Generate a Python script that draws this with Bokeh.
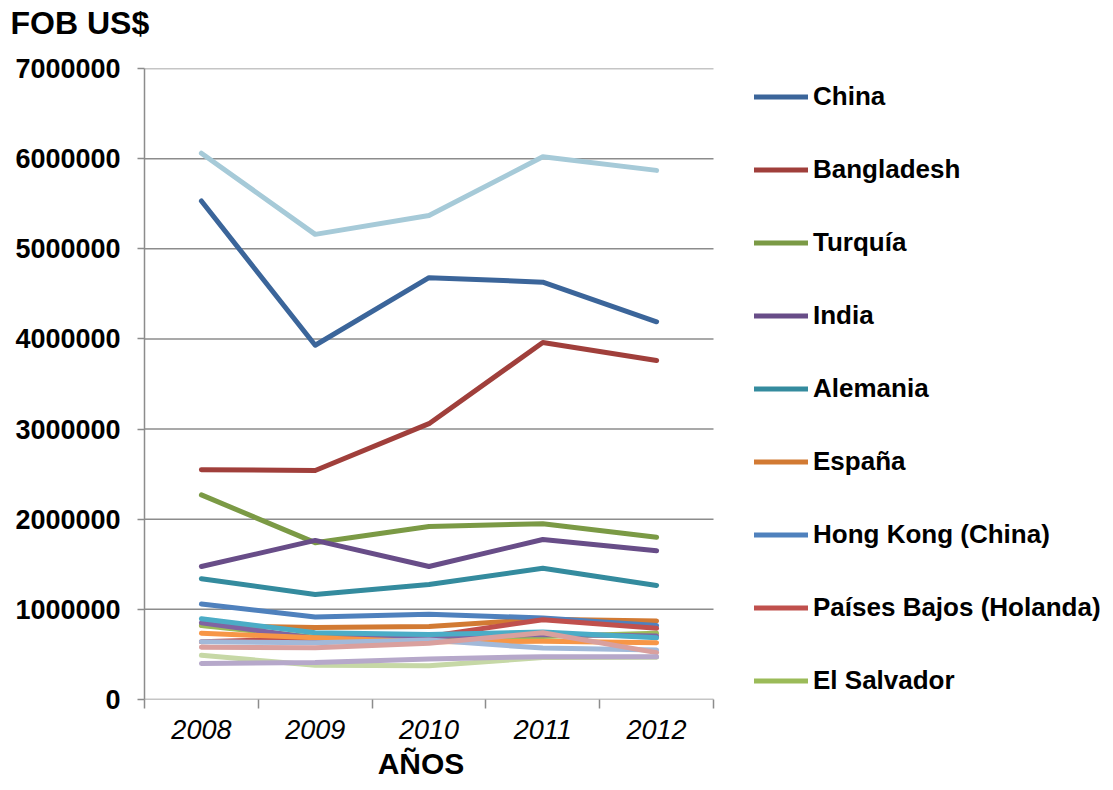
from bokeh.plotting import figure
from bokeh.models import (FixedTicker, Legend, LegendItem, Range1d, NumeralTickFormatter,
                          LinearAxis, Title)
from bokeh.embed import file_html
from bokeh.resources import INLINE

years = ["2008", "2009", "2010", "2011", "2012"]

# legend series
china = [5530000, 3930000, 4680000, 4630000, 4190000]
bangladesh = [2550000, 2540000, 3060000, 3960000, 3760000]
turquia = [2270000, 1740000, 1920000, 1950000, 1800000]
india = [1475000, 1765000, 1475000, 1775000, 1650000]
alemania = [1340000, 1165000, 1275000, 1455000, 1265000]
espana = [820000, 800000, 810000, 890000, 870000]
hong_kong = [1060000, 915000, 945000, 905000, 820000]
paises_bajos = [640000, 675000, 700000, 885000, 790000]
el_salvador = [820000, 690000, 690000, 700000, 735000]
# other series (not in legend)
serie10 = [850000, 680000, 700000, 720000, 705000]
serie11 = [895000, 740000, 720000, 750000, 685000]
serie12 = [735000, 685000, 640000, 645000, 630000]
serie13 = [640000, 630000, 660000, 570000, 550000]
serie14 = [580000, 575000, 625000, 740000, 520000]
serie15 = [490000, 380000, 375000, 465000, 470000]
serie16 = [400000, 410000, 450000, 475000, 475000]
serie17 = [6060000, 5160000, 5370000, 6020000, 5870000]

names = ["China", "Bangladesh", "Turquía", "India", "Alemania", "España",
         "Hong Kong (China)", "Países Bajos (Holanda)", "El Salvador",
         "Serie 10", "Serie 11", "Serie 12", "Serie 13", "Serie 14",
         "Serie 15", "Serie 16", "Serie 17"]
series = [china, bangladesh, turquia, india, alemania, espana, hong_kong,
          paises_bajos, el_salvador, serie10, serie11, serie12, serie13,
          serie14, serie15, serie16, serie17]
colors = ["#3B659A", "#A03F3B", "#7B9A45", "#684D88", "#348B9E", "#D27A33",
          "#4F81BD", "#C0504D", "#9BBB59", "#8064A2", "#4BACC6", "#F79646",
          "#A2B9D9", "#D9A09E", "#C6D8A6", "#B6A8CA", "#A6CAD8"]

y_ticks = [0, 1000000, 2000000, 3000000, 4000000, 5000000, 6000000, 7000000]

n = len(years)
xs = [i + 0.5 for i in range(n)]

# layout: plot area 144..713 px for the 5 categories, frame extends to the
# right edge so that the legend (drawn inside the frame) is not clipped
W, H = 1110, 790
LEFT, DATA_RIGHT = 144, 713
x_end = n * (W - LEFT) / (DATA_RIGHT - LEFT)

p = figure(width=W, height=H, output_backend="svg", toolbar_location=None,
           x_range=Range1d(0, x_end), y_range=Range1d(0, 7000000),
           min_border_left=LEFT, min_border_right=0, min_border_top=68,
           min_border_bottom=91)
p.outline_line_color = None
p.background_fill_color = "white"

p.title.text = "FOB US$"
p.title.text_font = "Liberation Sans"
p.title.text_font_size = "32px"
p.title.text_font_style = "bold"
p.title.text_color = "black"
p.title.align = "left"
p.title.vertical_align = "top"
p.title.offset = -134
p.title.standoff = 0
# spacer between title and plot area
p.add_layout(Title(text=" ", text_font_size="10px", standoff=13), "above")

# gridlines (and x-axis baseline) limited to the category area
p.segment(x0=[0] * len(y_ticks), x1=[n] * len(y_ticks), y0=y_ticks, y1=y_ticks,
          line_color="#8C8C8C", line_width=1.5)

renderers = []
for name, vals, col in zip(names, series, colors):
    r = p.line(xs, vals, line_color=col, line_width=5, line_cap="round",
               line_join="round")
    renderers.append((name, r))

# axes
p.xgrid.grid_line_color = None
p.ygrid.grid_line_color = None
p.yaxis.ticker = FixedTicker(ticks=y_ticks)
p.yaxis.formatter = NumeralTickFormatter(format="0")
p.yaxis.axis_line_color = "#8C8C8C"
p.yaxis.axis_line_width = 1.5
p.yaxis.major_tick_line_color = "#8C8C8C"
p.yaxis.major_tick_line_width = 1.5
p.yaxis.major_tick_out = 7
p.yaxis.major_tick_in = 0
p.yaxis.minor_tick_line_color = None
p.yaxis.major_label_text_font = "Liberation Sans"
p.yaxis.major_label_text_font_size = "27px"
p.yaxis.major_label_text_font_style = "bold"
p.yaxis.major_label_text_color = "black"
p.yaxis.major_label_standoff = 17

p.xaxis.ticker = FixedTicker(ticks=xs, minor_ticks=list(range(n + 1)))
p.xaxis.major_label_overrides = {x: y for x, y in zip(xs, years)}
p.xaxis.axis_line_color = None
p.xaxis.major_tick_line_color = None
p.xaxis.minor_tick_line_color = "#8C8C8C"
p.xaxis.minor_tick_line_width = 1.5
p.xaxis.minor_tick_out = 9
p.xaxis.minor_tick_in = 0
p.xaxis.major_label_text_font = "Liberation Sans"
p.xaxis.major_label_text_font_size = "27px"
p.xaxis.major_label_text_font_style = "italic"
p.xaxis.major_label_text_color = "black"
p.xaxis.major_label_standoff = 11

# axis title "AÑOS", centred under the category area
title_x = n / 2 - 0.07
x_title_axis = LinearAxis(ticker=FixedTicker(ticks=[title_x]),
                          major_label_overrides={title_x: "AÑOS"},
                          axis_line_color=None, major_tick_line_color=None,
                          minor_tick_line_color=None, major_tick_out=0,
                          major_tick_in=0, major_label_standoff=5,
                          major_label_text_font="Liberation Sans",
                          major_label_text_font_size="30px",
                          major_label_text_font_style="bold",
                          major_label_text_color="black")
p.add_layout(x_title_axis, "below")

legend = Legend(items=[LegendItem(label=nm, renderers=[r]) for nm, r in renderers[:9]],
                location=(610, 3), orientation="vertical",
                padding=0, margin=0, spacing=42, label_height=31,
                glyph_height=31, glyph_width=54, label_standoff=5,
                label_text_font="Liberation Sans", label_text_font_size="26px",
                label_text_font_style="bold", label_text_color="black",
                border_line_color=None, background_fill_alpha=0)
p.add_layout(legend, "center")

open("out.html", "w").write(file_html(p, INLINE))
